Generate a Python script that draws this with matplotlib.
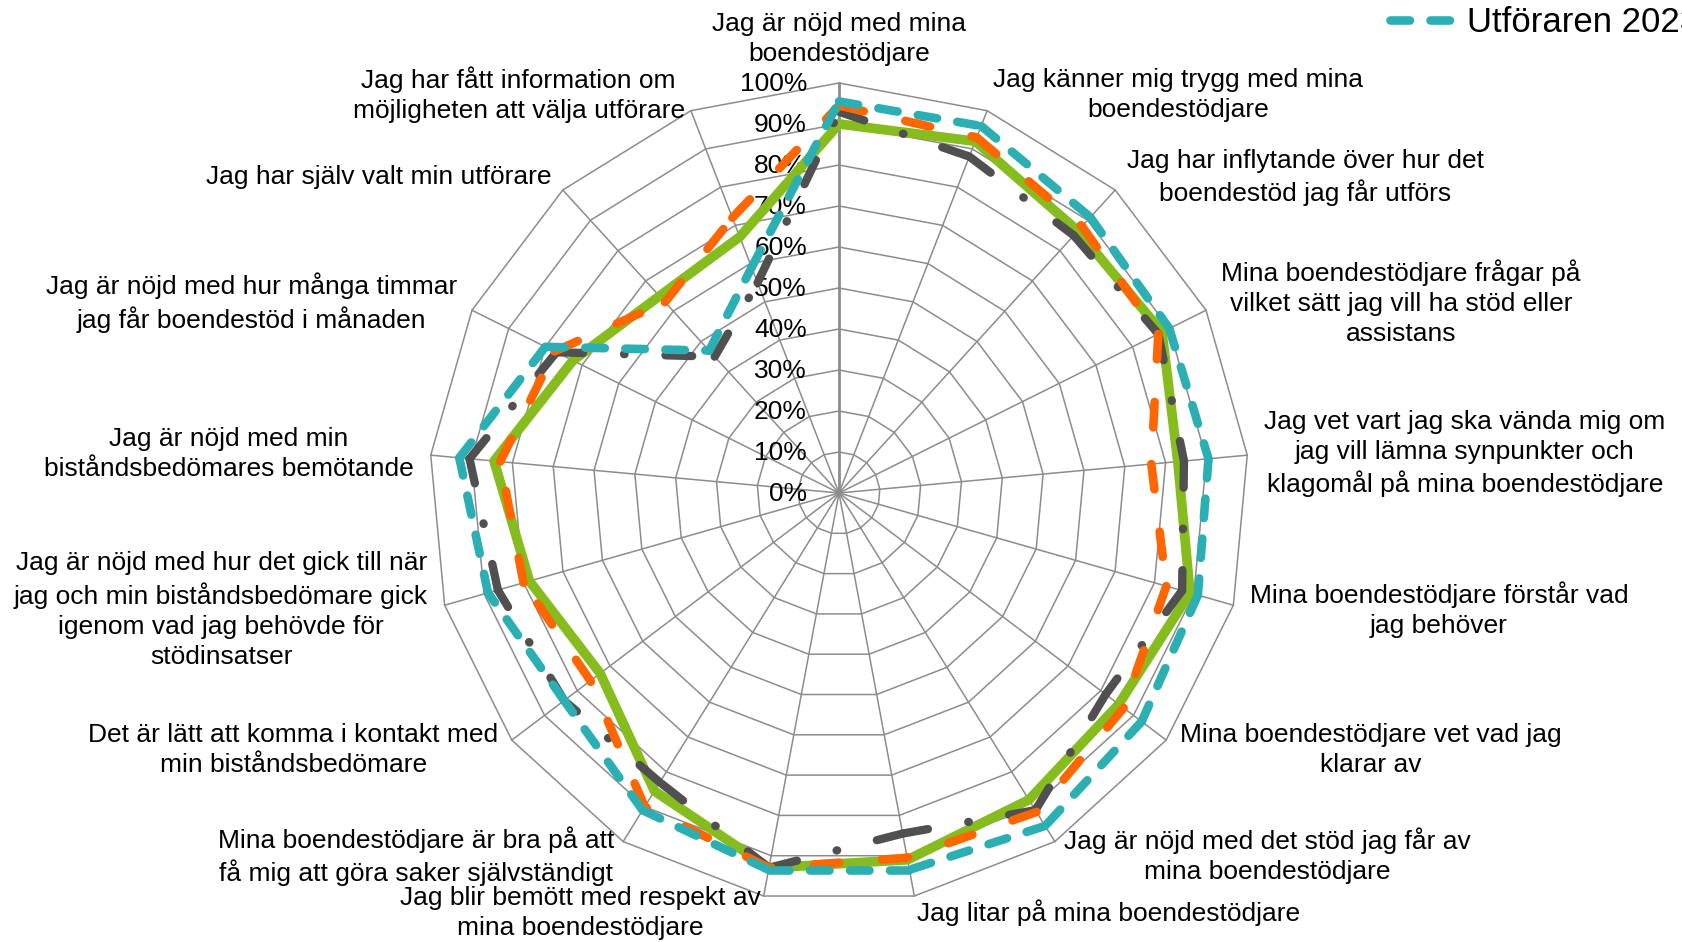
import numpy as np
import matplotlib
matplotlib.use("Agg")
import matplotlib.pyplot as plt
from matplotlib.lines import Line2D

plt.rcParams['font.family'] = ['Liberation Sans', 'DejaVu Sans']
plt.rcParams['lines.scale_dashes'] = False

# ---------------- data ----------------
categories = [
    "Jag är nöjd med mina\nboendestödjare",
    "Jag känner mig trygg med mina\nboendestödjare",
    "Jag har inflytande över hur det\nboendestöd jag får utförs",
    "Mina boendestödjare frågar på\nvilket sätt jag vill ha stöd eller\nassistans",
    "Jag vet vart jag ska vända mig om\njag vill lämna synpunkter och\nklagomål på mina boendestödjare",
    "Mina boendestödjare förstår vad\njag behöver",
    "Mina boendestödjare vet vad jag\nklarar av",
    "Jag är nöjd med det stöd jag får av\nmina boendestödjare",
    "Jag litar på mina boendestödjare",
    "Jag blir bemött med respekt av\nmina boendestödjare",
    "Mina boendestödjare är bra på att\nfå mig att göra saker självständigt",
    "Det är lätt att komma i kontakt med\nmin biståndsbedömare",
    "Jag är nöjd med hur det gick till när\njag och min biståndsbedömare gick\nigenom vad jag behövde för\nstödinsatser",
    "Jag är nöjd med min\nbiståndsbedömares bemötande",
    "Jag är nöjd med hur många timmar\njag får boendestöd i månaden",
    "Jag har själv valt min utförare",
    "Jag har fått information om\nmöjligheten att välja utförare",
]

teal_name = "Utföraren 2023"
teal_values = [0.955, 0.96, 0.91, 0.90, 0.905, 0.91, 0.925, 0.955, 0.935,
               0.935, 0.91, 0.84, 0.89, 0.93, 0.80, 0.47, 0.59]
orange_values = [0.945, 0.93, 0.88, 0.87, 0.765, 0.83, 0.87, 0.915, 0.905,
                 0.93, 0.90, 0.76, 0.80, 0.83, 0.775, 0.63, 0.72]
green_values = [0.90, 0.92, 0.865, 0.88, 0.83, 0.89, 0.855, 0.88, 0.91,
                0.93, 0.855, 0.73, 0.785, 0.845, 0.725, 0.65, 0.67]
gray_values = [0.93, 0.88, 0.85, 0.87, 0.845, 0.87, 0.815, 0.91, 0.845,
               0.93, 0.83, 0.84, 0.865, 0.905, 0.77, 0.45, 0.55]

ring_levels = [0.0, 0.1, 0.2, 0.3, 0.4, 0.5, 0.6, 0.7, 0.8, 0.9, 1.0]
ring_labels = ["0%", "10%", "20%", "30%", "40%", "50%", "60%", "70%", "80%", "90%", "100%"]

# ---------------- styles ----------------
TEAL = "#2CAFB3"
ORANGE = "#FF6600"
GREEN = "#86BC1E"
GRAY = "#505050"
GRID = "#8C8C8C"

styles = [
    # values, color, lw, dashes, zorder
    (green_values, GREEN, 7.0, None, 3),
    (gray_values, GRAY, 6.0, (19.2, 29.5, 0.4, 29.5), 4),
    (orange_values, ORANGE, 6.2, (18.3, 30.7), 5),
    (teal_values, TEAL, 6.2, (14.0, 14.8), 6),
]

# ---------------- figure ----------------
W, H = 1683, 942
fig = plt.figure(figsize=(W / 100, H / 100), dpi=100)
cx, cy, R = 839, 493, 410
ax = fig.add_axes([(cx - R) / W, (H - cy - R) / H, 2 * R / W, 2 * R / H],
                  projection="polar")
ax.set_theta_zero_location("N")
ax.set_theta_direction(-1)
ax.set_ylim(0, 1)
ax.axis("off")

n = len(categories)
theta = np.arange(n) * 2 * np.pi / n
theta_closed = np.append(theta, theta[0])

# polygon rings
for lvl in ring_levels[1:]:
    ax.plot(theta_closed, [lvl] * (n + 1), color=GRID, lw=1.1, zorder=1,
            clip_on=False)
# spokes
for i, t in enumerate(theta):
    ax.plot([t, t], [0, 1], color=GRID, lw=2.0 if i == 0 else 1.1,
            zorder=1.5 if i == 0 else 1, clip_on=False)

# tick labels along the first spoke
for lvl, lab in zip(ring_levels, ring_labels):
    ax.annotate(lab, xy=(0, lvl), xytext=(-32, -1), textcoords="offset pixels",
                ha="right", va="center", fontsize=19, color="#000000",
                zorder=2, annotation_clip=False)

# category labels
for t, lab in zip(theta, categories):
    s, c = np.sin(t), np.cos(t)
    if abs(s) < 1e-6:
        ha = "center"
    elif s > 0:
        ha = "left"
    else:
        ha = "right"
    va = "bottom" if (abs(s) < 1e-6 and c > 0) else "center"
    ax.annotate(lab, xy=(t, 1.0), xytext=(17 * s, 17 * c),
                textcoords="offset pixels", ha=ha, va=va,
                multialignment="center", fontsize=19, linespacing=1.32,
                annotation_clip=False)

# series: drawn segment by segment (dash pattern restarts at each vertex)
for vals, color, lw, dashes, z in styles:
    vals_closed = np.append(vals, vals[0])
    if dashes is None:
        ax.plot(theta_closed, vals_closed, color=color, lw=lw,
                solid_capstyle="round", solid_joinstyle="round", zorder=z,
                clip_on=False)
    else:
        for i in range(n):
            ax.plot(theta_closed[i:i + 2], vals_closed[i:i + 2], color=color,
                    lw=lw, dashes=dashes, dash_capstyle="round",
                    dash_joinstyle="round", zorder=z, clip_on=False)

# legend (only the first entry fits in the visible area)
teal_handle = Line2D([], [], color=TEAL, lw=6.2, dashes=(14.0, 14.8),
                     dash_capstyle="round")
fig.legend(handles=[teal_handle], labels=[teal_name], loc="center left",
           bbox_to_anchor=(1390 / W, 1 - 23 / H), frameon=False, fontsize=25,
           handlelength=1.76, handletextpad=0.46, borderpad=0,
           borderaxespad=0)

fig.savefig("out.png", dpi=100)
